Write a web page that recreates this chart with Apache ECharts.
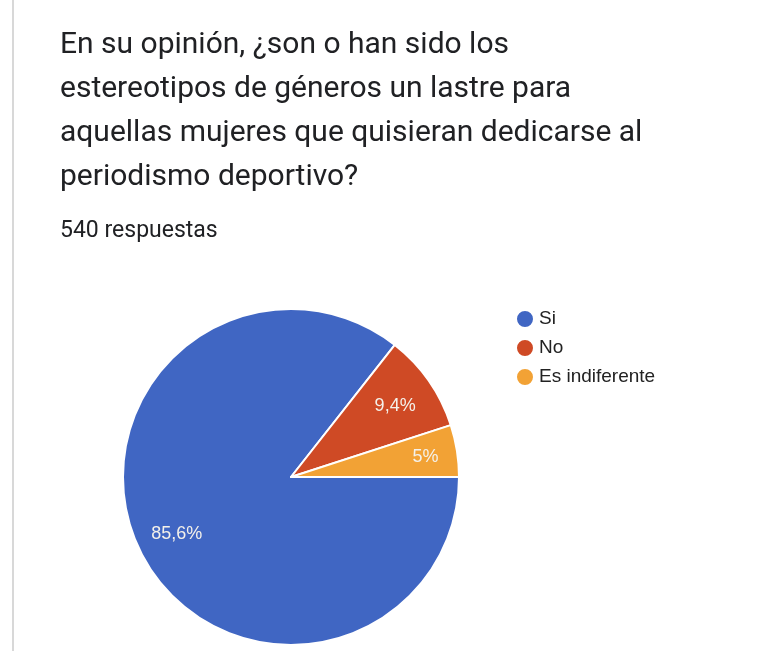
<!DOCTYPE html>
<html>
<head>
<meta charset="utf-8">
<script src="https://cdn.jsdelivr.net/npm/echarts@6/dist/echarts.min.js"></script>
<style>
  html, body { margin: 0; padding: 0; background: #ffffff; }
  #chart { width: 772px; height: 651px; }
</style>
</head>
<body>
<div id="chart"></div>
<script>
// Survey question, response count and answer shares (percent)
const questionLines = [
  'En su opinión, ¿son o han sido los',
  'estereotipos de géneros un lastre para',
  'aquellas mujeres que quisieran dedicarse al',
  'periodismo deportivo?'
];
const responsesText = '540 respuestas';
const answers = ['Si', 'No', 'Es indiferente'];
const shares = [85.6, 9.4, 5];
const sliceColors = ['#4066c3', '#cf4a25', '#f2a235'];

const pieData = answers.map((name, i) => ({
  name: name,
  value: shares[i],
  itemStyle: { color: sliceColors[i] }
}));
// same values, uncoloured, for the label ring
const labelData = answers.map((name, i) => ({ name: name, value: shares[i] }));

const fmtPct = p => String(p.value).replace('.', ',') + '%';

const chart = echarts.init(document.getElementById('chart'), null, { renderer: 'canvas' });
chart.setOption({
  backgroundColor: '#ffffff',
  animation: false,
  title: [
    {
      text: questionLines.join('\n'),
      left: 60,
      top: 23,
      padding: 0,
      textStyle: {
        fontFamily: 'Roboto',
        fontSize: 30,
        fontWeight: 'normal',
        lineHeight: 44,
        color: '#202124'
      }
    },
    {
      text: responsesText,
      left: 60,
      top: 220,
      padding: 0,
      textStyle: {
        fontFamily: 'Roboto',
        fontSize: 23,
        fontWeight: 'normal',
        color: '#202124'
      }
    }
  ],
  graphic: [
    {
      type: 'line',
      shape: { x1: 13, y1: 0, x2: 13, y2: 651 },
      style: { stroke: '#d8d8d8', lineWidth: 2 }
    }
  ],
  legend: {
    orient: 'vertical',
    left: 515,
    top: 309,
    padding: 0,
    icon: 'circle',
    itemWidth: 18,
    itemHeight: 18,
    itemGap: 9,
    itemTextGap: 10,
    data: answers,
    textStyle: {
      fontFamily: 'Liberation Sans',
      fontSize: 19,
      color: '#222222'
    }
  },
  series: [
    {
      name: 'respuestas',
      type: 'pie',
      center: [291, 477],
      radius: [0, 168],
      startAngle: 0,
      clockwise: true,
      avoidLabelOverlap: false,
      silent: true,
      data: pieData,
      itemStyle: { borderColor: '#ffffff', borderWidth: 2 },
      label: { show: false },
      labelLine: { show: false }
    },
    {
      // transparent ring carrying the percentage labels
      name: 'etiquetas',
      type: 'pie',
      center: [291, 477],
      radius: [80, 168],
      startAngle: 0,
      clockwise: true,
      avoidLabelOverlap: false,
      silent: true,
      data: labelData,
      itemStyle: { color: 'rgba(0,0,0,0)', borderWidth: 0 },
      label: {
        show: true,
        position: 'inside',
        formatter: fmtPct,
        fontFamily: 'Liberation Sans',
        fontSize: 18,
        color: '#f4f1ea'
      },
      // the narrow slice keeps its label a little closer to the rim
      labelLayout: p => (p.dataIndex === 2 ? { dx: 9 } : { dy: 2 }),
      labelLine: { show: false }
    }
  ]
});
</script>
</body>
</html>
